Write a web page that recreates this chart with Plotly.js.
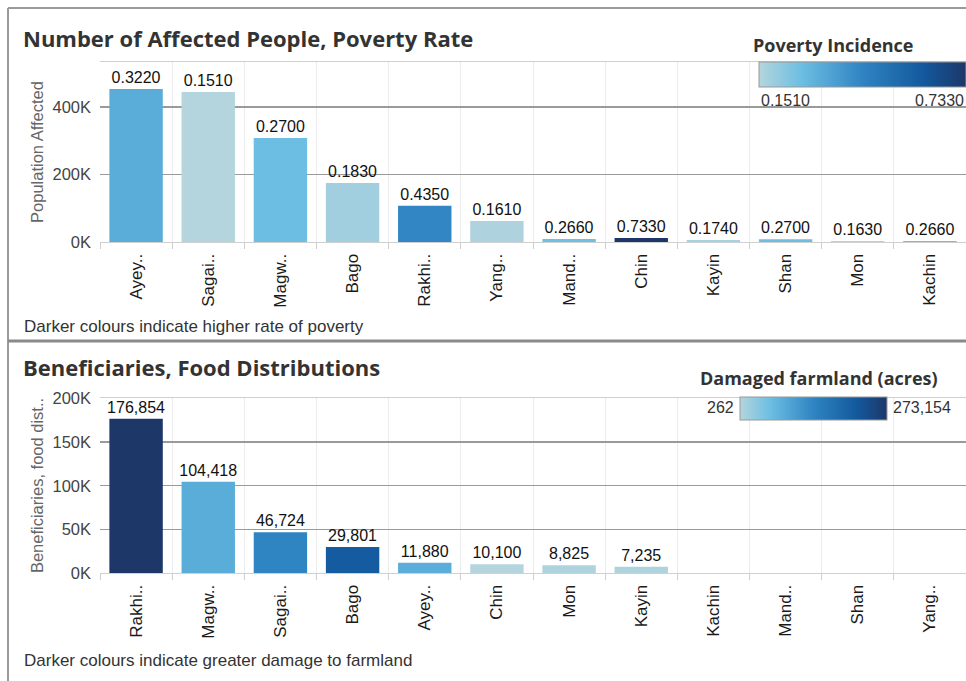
<!DOCTYPE html>
<html>
<head>
<meta charset="utf-8">
<script src="https://cdn.plot.ly/plotly-3.0.1.min.js"></script>
<style>
html,body{margin:0;padding:0;background:#fff;}
#chart{width:966px;height:681px;}
</style>
</head>
<body>
<div id="chart"></div>
<script>
// ---------- data ----------
var regionsTop = ['Ayey..','Sagai..','Magw..','Bago','Rakhi..','Yang..','Mand..','Chin','Kayin','Shan','Mon','Kachin'];
var populationAffected = [453000, 444000, 308000, 175000, 107000, 62000, 9000, 12000, 6000, 8000, 3000, 3000];
var povertyIncidence = [0.322, 0.151, 0.270, 0.183, 0.435, 0.161, 0.266, 0.733, 0.174, 0.270, 0.163, 0.266];

var regionsBottom = ['Rakhi..','Magw..','Sagai..','Bago','Ayey..','Chin','Mon','Kayin','Kachin','Mand..','Shan','Yang..'];
var regionsWithFood = ['Rakhi..','Magw..','Sagai..','Bago','Ayey..','Chin','Mon','Kayin'];
var foodBeneficiaries = [176854, 104418, 46724, 29801, 11880, 10100, 8825, 7235];
var damagedFarmland = [273154, 80000, 137000, 213000, 78000, 262, 5000, 4000];

var topTickVals = [0, 200000, 400000];
var topTickText = ['0K', '200K', '400K'];
var bottomTickVals = [0, 50000, 100000, 150000, 200000];
var bottomTickText = ['0K', '50K', '100K', '150K', '200K'];

// ---------- helpers (pixel -> paper) ----------
var W = 966, H = 681;
function px(x){ return x / W; }
function py(y){ return 1 - y / H; }

var blues = [[0,'#b4d5dd'],[0.2,'#6ebfe3'],[0.5,'#2f84c2'],[0.8,'#13589c'],[1,'#1d3769']];
var lab = 'Liberation Sans, Arial, sans-serif';
var boldFont = 'Open Sans, DejaVu Sans, sans-serif';

var traceTop = {
  type: 'bar',
  x: regionsTop,
  y: populationAffected,
  customdata: povertyIncidence,
  xaxis: 'x', yaxis: 'y',
  texttemplate: '%{customdata:.4f}',
  textposition: 'outside',
  constraintext: 'none',
  cliponaxis: false,
  textfont: {family: lab, size: 16, color: '#111'},
  marker: {
    color: povertyIncidence,
    colorscale: blues,
    cmin: 0.151, cmax: 0.733,
    showscale: true,
    line: {width: 0},
    colorbar: {
      orientation: 'h',
      x: px(759), xanchor: 'left',
      y: py(62), yanchor: 'top',
      len: (966 - 759) / W, lenmode: 'fraction',
      thickness: 25, thicknessmode: 'pixels',
      showticklabels: false, ticks: '',
      outlinewidth: 1, outlinecolor: '#999',
      xpad: 0, ypad: 0, borderwidth: 0
    }
  },
  hoverinfo: 'x+y'
};

var traceBottom = {
  type: 'bar',
  x: regionsWithFood,
  y: foodBeneficiaries,
  customdata: damagedFarmland,
  xaxis: 'x2', yaxis: 'y2',
  texttemplate: '%{y:,}',
  textposition: 'outside',
  constraintext: 'none',
  cliponaxis: false,
  textfont: {family: lab, size: 16, color: '#111'},
  marker: {
    color: damagedFarmland,
    colorscale: blues,
    cmin: 262, cmax: 273154,
    showscale: true,
    line: {width: 0},
    colorbar: {
      orientation: 'h',
      x: px(740), xanchor: 'left',
      y: py(397), yanchor: 'top',
      len: (887 - 740) / W, lenmode: 'fraction',
      thickness: 23, thicknessmode: 'pixels',
      showticklabels: false, ticks: '',
      outlinewidth: 1, outlinecolor: '#999',
      xpad: 0, ypad: 0, borderwidth: 0
    }
  },
  hoverinfo: 'x+y'
};

var xCommon = {
  type: 'category',
  categoryorder: 'array',
  tickson: 'boundaries',
  ticks: 'outside', ticklen: 6, tickcolor: '#cfcfcf', tickwidth: 1,
  showgrid: true, gridcolor: '#ececec', gridwidth: 1,
  showline: true, linecolor: '#d0d0d0', linewidth: 1, mirror: true,
  tickangle: -90,
  tickfont: {family: lab, size: 17, color: '#1a1a1a'},
  ticklabelstandoff: 4,
  fixedrange: true
};

var layout = {
  width: W, height: H,
  margin: {l: 0, r: 0, t: 0, b: 0, pad: 0},
  paper_bgcolor: '#fff', plot_bgcolor: '#fff',
  showlegend: false,
  bargap: 0.26,
  font: {family: lab},
  xaxis: Object.assign({}, xCommon, {
    domain: [px(100), 1],
    anchor: 'y',
    categoryarray: regionsTop,
    range: [-0.5, 11.5]
  }),
  yaxis: {
    domain: [py(242), py(62)],
    anchor: 'x',
    range: [0, 533000],
    tickvals: topTickVals, ticktext: topTickText,
    showgrid: true, gridcolor: '#9a9a9a', gridwidth: 1.3,
    zeroline: false, showline: false, ticks: '',
    tickfont: {family: lab, size: 16.5, color: '#444'},
    ticklabelstandoff: 8,
    title: {text: 'Population Affected', font: {family: lab, size: 16.5, color: '#666'}, standoff: 4},
    fixedrange: true
  },
  xaxis2: Object.assign({}, xCommon, {
    domain: [px(100), 1],
    anchor: 'y2',
    categoryarray: regionsBottom,
    range: [-0.5, 11.5]
  }),
  yaxis2: {
    domain: [py(573), py(398)],
    anchor: 'x2',
    range: [0, 200500],
    tickvals: bottomTickVals, ticktext: bottomTickText,
    showgrid: true, gridcolor: '#9a9a9a', gridwidth: 1.3,
    zeroline: false, showline: false, ticks: '',
    tickfont: {family: lab, size: 16.5, color: '#444'},
    ticklabelstandoff: 8,
    title: {text: 'Beneficiaries, food dist..', font: {family: lab, size: 16.5, color: '#666'}, standoff: 4},
    fixedrange: true
  },
  shapes: [
    // outer frame
    {type: 'line', xref: 'paper', yref: 'paper', x0: px(8), x1: 1, y0: py(8), y1: py(8), line: {color: '#9a9a9a', width: 2}},
    {type: 'line', xref: 'paper', yref: 'paper', x0: px(8), x1: px(8), y0: py(8), y1: 0, line: {color: '#9a9a9a', width: 2}},
    // divider between panels
    {type: 'line', xref: 'paper', yref: 'paper', x0: px(8), x1: 1, y0: py(341), y1: py(341), line: {color: '#8a8a8a', width: 3}}
  ],
  annotations: [
    {xref: 'paper', yref: 'paper', x: px(21), y: py(38), xanchor: 'left', yanchor: 'middle', showarrow: false,
     text: '<b>Number of Affected People, Poverty Rate</b>', font: {family: boldFont, size: 22, color: '#333'}},
    {xref: 'paper', yref: 'paper', x: px(21), y: py(367), xanchor: 'left', yanchor: 'middle', showarrow: false,
     text: '<b>Beneficiaries, Food Distributions</b>', font: {family: boldFont, size: 22, color: '#333'}},
    {xref: 'paper', yref: 'paper', x: px(22), y: py(327), xanchor: 'left', yanchor: 'middle', showarrow: false,
     text: 'Darker colours indicate higher rate of poverty', font: {family: 'Liberation Sans Narrow, Liberation Sans, Arial', size: 17, color: '#333'}},
    {xref: 'paper', yref: 'paper', x: px(22), y: py(660), xanchor: 'left', yanchor: 'middle', showarrow: false,
     text: 'Darker colours indicate greater damage to farmland', font: {family: 'Liberation Sans Narrow, Liberation Sans, Arial', size: 17, color: '#333'}},
    {xref: 'paper', yref: 'paper', x: px(833), y: py(45), xanchor: 'center', yanchor: 'middle', showarrow: false,
     text: '<b>Poverty Incidence</b>', font: {family: boldFont, size: 18, color: '#333'}},
    {xref: 'paper', yref: 'paper', x: px(759), y: py(100), xanchor: 'left', yanchor: 'middle', showarrow: false,
     text: '0.1510', font: {family: lab, size: 16, color: '#333'}},
    {xref: 'paper', yref: 'paper', x: px(966), y: py(100), xanchor: 'right', yanchor: 'middle', showarrow: false,
     text: '0.7330', font: {family: lab, size: 16, color: '#333'}},
    {xref: 'paper', yref: 'paper', x: px(819), y: py(378), xanchor: 'center', yanchor: 'middle', showarrow: false,
     text: '<b>Damaged farmland (acres)</b>', font: {family: boldFont, size: 18, color: '#333'}},
    {xref: 'paper', yref: 'paper', x: px(736), y: py(407), xanchor: 'right', yanchor: 'middle', showarrow: false,
     text: '262', font: {family: lab, size: 16, color: '#333'}},
    {xref: 'paper', yref: 'paper', x: px(891), y: py(407), xanchor: 'left', yanchor: 'middle', showarrow: false,
     text: '273,154', font: {family: lab, size: 16, color: '#333'}}
  ]
};

Plotly.newPlot('chart', [traceTop, traceBottom], layout, {displayModeBar: false, staticPlot: true});
</script>
</body>
</html>
